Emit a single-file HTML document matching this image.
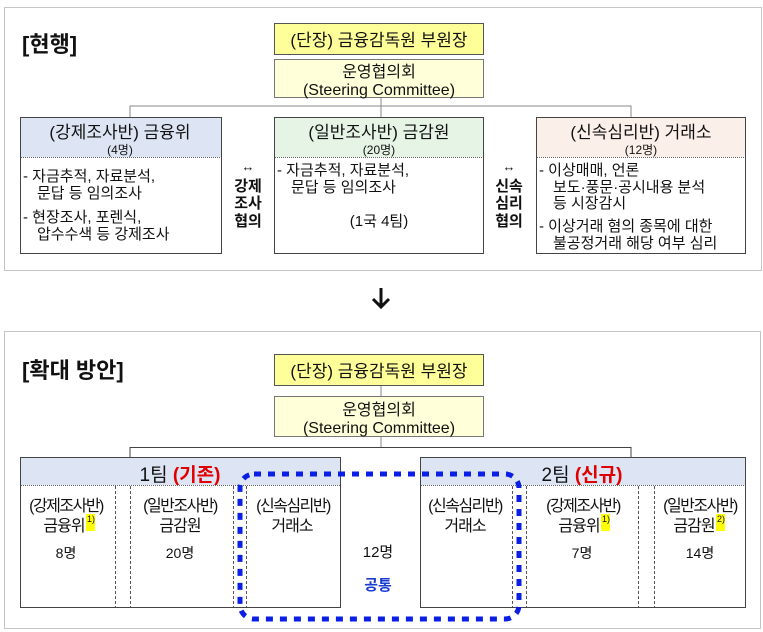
<!DOCTYPE html>
<html><head><meta charset="utf-8"><style>
body{margin:0;background:#fff}
svg{display:block}
text{font-family:"Liberation Sans","Noto Sans CJK KR","NanumGothic",sans-serif;fill:#111}
</style></head><body>
<svg width="763" height="632" viewBox="0 0 763 632" xmlns="http://www.w3.org/2000/svg">
<!-- top panel -->
<rect x="4.5" y="7.5" width="757" height="263" fill="none" stroke="#888" stroke-dasharray="1,1"/>
<text x="22" y="52" font-size="22" font-weight="bold">[현행]</text>
<rect x="274.5" y="23.5" width="209" height="31" fill="#ffff99" stroke="#555"/>
<text x="379" y="46" font-size="17" text-anchor="middle">(단장) 금융감독원 부원장</text>
<rect x="274.5" y="59.5" width="209" height="38" fill="#ffffd9" stroke="#777"/>
<text x="379" y="77" font-size="16" text-anchor="middle">운영협의회</text>
<text x="379" y="95" font-size="16" text-anchor="middle">(Steering Committee)</text>
<line x1="381" y1="98" x2="381" y2="117" stroke="#888"/>
<polyline points="130,117 130,106 631,106 631,117" fill="none" stroke="#888"/>
<!-- left -->
<rect x="20.5" y="117.5" width="201" height="136" fill="#fff" stroke="#444"/>
<rect x="21" y="118" width="200" height="39" fill="#dde4f3"/>
<line x1="21" y1="157.5" x2="221" y2="157.5" stroke="#666" stroke-dasharray="1,1"/>
<text x="120" y="138" font-size="17" text-anchor="middle">(강제조사반) 금융위</text>
<text x="120" y="154" font-size="12" text-anchor="middle">(4명)</text>
<text x="23" y="181" font-size="15">-  자금추적, 자료분석,</text>
<text x="37" y="198" font-size="15">문답 등 임의조사</text>
<text x="23" y="222" font-size="15">-  현장조사, 포렌식,</text>
<text x="37" y="239" font-size="15">압수수색 등 강제조사</text>
<!-- middle -->
<rect x="274.5" y="117.5" width="209" height="136" fill="#fff" stroke="#444"/>
<rect x="275" y="118" width="208" height="39" fill="#e6f4e6"/>
<line x1="275" y1="157.5" x2="483" y2="157.5" stroke="#666" stroke-dasharray="1,1"/>
<text x="379" y="138" font-size="17" text-anchor="middle">(일반조사반) 금감원</text>
<text x="379" y="154" font-size="12" text-anchor="middle">(20명)</text>
<text x="277" y="175" font-size="15">-  자금추적, 자료분석,</text>
<text x="291" y="192" font-size="15">문답 등 임의조사</text>
<text x="379" y="226" font-size="15" text-anchor="middle">(1국 4팀)</text>
<!-- right -->
<rect x="536.5" y="117.5" width="209" height="136" fill="#fff" stroke="#444"/>
<rect x="537" y="118" width="208" height="39" fill="#fbefea"/>
<line x1="537" y1="157.5" x2="745" y2="157.5" stroke="#666" stroke-dasharray="1,1"/>
<text x="641" y="138" font-size="17" text-anchor="middle">(신속심리반) 거래소</text>
<text x="641" y="154" font-size="12" text-anchor="middle">(12명)</text>
<text x="539" y="175" font-size="15">-  이상매매, 언론</text>
<text x="553" y="192" font-size="15">보도·풍문·공시내용 분석</text>
<text x="553" y="208" font-size="15">등 시장감시</text>
<text x="539" y="231" font-size="15">-  이상거래 혐의 종목에 대한</text>
<text x="553" y="248" font-size="15">불공정거래 해당 여부 심리</text>
<!-- between -->
<text x="248" y="171" font-size="13" text-anchor="middle">↔</text>
<text x="248" y="191" font-size="15" font-weight="bold" text-anchor="middle">강제</text>
<text x="248" y="208" font-size="15" font-weight="bold" text-anchor="middle">조사</text>
<text x="248" y="226" font-size="15" font-weight="bold" text-anchor="middle">협의</text>
<text x="509" y="171" font-size="13" text-anchor="middle">↔</text>
<text x="509" y="191" font-size="15" font-weight="bold" text-anchor="middle">신속</text>
<text x="509" y="208" font-size="15" font-weight="bold" text-anchor="middle">심리</text>
<text x="509" y="226" font-size="15" font-weight="bold" text-anchor="middle">협의</text>
<!-- down arrow -->
<g stroke="#111" stroke-width="3" fill="none"><line x1="381" y1="288" x2="381" y2="306"/><polyline points="373,299 381,307 389,299"/></g>
<!-- bottom panel -->
<rect x="4.5" y="331.5" width="756" height="297" fill="none" stroke="#888" stroke-dasharray="1,1"/>
<text x="22" y="378" font-size="22" font-weight="bold">[확대 방안]</text>
<rect x="274.5" y="354.5" width="209" height="31" fill="#ffff99" stroke="#555"/>
<text x="379" y="377" font-size="17" text-anchor="middle">(단장) 금융감독원 부원장</text>
<line x1="381" y1="386" x2="381" y2="396" stroke="#888"/>
<rect x="274.5" y="396.5" width="209" height="40" fill="#ffffd9" stroke="#777"/>
<text x="379" y="415" font-size="16" text-anchor="middle">운영협의회</text>
<text x="379" y="433" font-size="16" text-anchor="middle">(Steering Committee)</text>
<line x1="381" y1="437" x2="381" y2="447" stroke="#888"/>
<polyline points="130,457 130,447.5 631,447.5 631,457" fill="none" stroke="#444"/>
<!-- team 1 -->
<rect x="20.5" y="457.5" width="320" height="150" fill="#fff" stroke="#444"/>
<rect x="21" y="458" width="319" height="27" fill="#dde4f3"/>
<line x1="21" y1="485.5" x2="340" y2="485.5" stroke="#666" stroke-dasharray="1,1"/>
<text x="180" y="481" font-size="19" text-anchor="middle">1팀 <tspan fill="#e00000" font-weight="bold">(기존)</tspan></text>
<g stroke="#555" stroke-dasharray="3,2"><line x1="115.5" y1="486" x2="115.5" y2="607"/><line x1="130.5" y1="486" x2="130.5" y2="607"/><line x1="233.5" y1="486" x2="233.5" y2="607"/><line x1="246.5" y1="486" x2="246.5" y2="607"/></g>
<text x="66" y="511" font-size="16" text-anchor="middle" letter-spacing="-1.5">(강제조사반)</text>
<text x="64" y="531" font-size="16" text-anchor="middle" letter-spacing="-1">금융위</text>
<rect x="86" y="514" width="9" height="17" fill="#ffff00"/><text x="87" y="522" font-size="9">1)</text>
<text x="66" y="558" font-size="14" text-anchor="middle">8명</text>
<text x="180" y="511" font-size="16" text-anchor="middle" letter-spacing="-1.5">(일반조사반)</text>
<text x="180" y="531" font-size="16" text-anchor="middle" letter-spacing="-1">금감원</text>
<text x="180" y="558" font-size="14" text-anchor="middle">20명</text>
<text x="293" y="511" font-size="16" text-anchor="middle" letter-spacing="-1.5">(신속심리반)</text>
<text x="292" y="531" font-size="16" text-anchor="middle" letter-spacing="-1">거래소</text>
<!-- team 2 -->
<rect x="420.5" y="457.5" width="325" height="150" fill="#fff" stroke="#444"/>
<rect x="421" y="458" width="324" height="27" fill="#dde4f3"/>
<line x1="421" y1="485.5" x2="745" y2="485.5" stroke="#666" stroke-dasharray="1,1"/>
<text x="582" y="481" font-size="19" text-anchor="middle">2팀 <tspan fill="#e00000" font-weight="bold">(신규)</tspan></text>
<g stroke="#555" stroke-dasharray="3,2"><line x1="512.5" y1="486" x2="512.5" y2="607"/><line x1="526.5" y1="486" x2="526.5" y2="607"/><line x1="638.5" y1="486" x2="638.5" y2="607"/><line x1="654.5" y1="486" x2="654.5" y2="607"/></g>
<text x="465" y="511" font-size="16" text-anchor="middle" letter-spacing="-1.5">(신속심리반)</text>
<text x="465" y="531" font-size="16" text-anchor="middle" letter-spacing="-1">거래소</text>
<text x="583" y="511" font-size="16" text-anchor="middle" letter-spacing="-1.5">(강제조사반)</text>
<text x="579" y="531" font-size="16" text-anchor="middle" letter-spacing="-1">금융위</text>
<rect x="601" y="514" width="9" height="17" fill="#ffff00"/><text x="602" y="522" font-size="9">1)</text>
<text x="582" y="558" font-size="14" text-anchor="middle">7명</text>
<text x="700" y="511" font-size="16" text-anchor="middle" letter-spacing="-1.5">(일반조사반)</text>
<text x="694" y="531" font-size="16" text-anchor="middle" letter-spacing="-1">금감원</text>
<rect x="716" y="514" width="9" height="17" fill="#ffff00"/><text x="717" y="522" font-size="9">2)</text>
<text x="700" y="558" font-size="14" text-anchor="middle">14명</text>
<!-- common -->
<text x="378" y="557" font-size="15" text-anchor="middle">12명</text>
<text x="378" y="590" font-size="15" font-weight="bold" text-anchor="middle" style="fill:#1a3cd0">공통</text>
<rect x="240" y="474" width="279" height="145" rx="14" fill="none" stroke="#0a1ee6" stroke-width="5" stroke-dasharray="7,7"/>
</svg>
</body></html>
